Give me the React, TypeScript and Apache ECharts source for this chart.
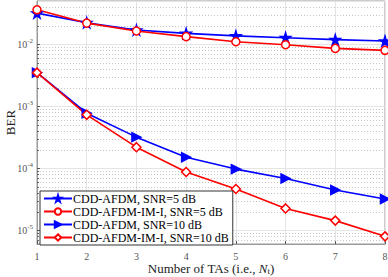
import React, { useEffect, useRef } from "react";
import * as echarts from "echarts";

const xValues = [1, 2, 3, 4, 5, 6, 7, 8];
const afdm5 = [0.0319, 0.0223, 0.017, 0.015, 0.0137, 0.0128, 0.0119, 0.0113];
const imi5 = [0.0361, 0.022, 0.0164, 0.0133, 0.011, 0.00985, 0.0086, 0.008];
const afdm10 = [3.49e-3, 7.74e-4, 3.18e-4, 1.51e-4, 9.7e-5, 6.86e-5, 4.46e-5, 3.19e-5];
const imi10 = [3.49e-3, 7.28e-4, 2.19e-4, 8.69e-5, 4.62e-5, 2.25e-5, 1.43e-5, 7.97e-6];
const seriesNames = [
  "CDD-AFDM, SNR=5 dB",
  "CDD-AFDM-IM-I, SNR=5 dB",
  "CDD-AFDM, SNR=10 dB",
  "CDD-AFDM-IM-I, SNR=10 dB",
];
const minorGridValues = [
  7e-6, 8e-6, 9e-6,
  2e-5, 3e-5, 4e-5, 5e-5, 6e-5, 7e-5, 8e-5, 9e-5,
  2e-4, 3e-4, 4e-4, 5e-4, 6e-4, 7e-4, 8e-4, 9e-4,
  2e-3, 3e-3, 4e-3, 5e-3, 6e-3, 7e-3, 8e-3, 9e-3,
  2e-2, 3e-2, 4e-2,
];

const STAR = "path://M50,0 L61,35 L98,35 L68,57 L79,91 L50,70 L21,91 L32,57 L2,35 L39,35 Z";
const SERIF = "'Liberation Serif', 'DejaVu Serif', serif";

export default function App() {
  const ref = useRef<HTMLDivElement>(null);
  useEffect(() => {
    if (!ref.current) return;
    const chart = echarts.init(ref.current, undefined, { renderer: "svg" });
    const pair = (arr: number[]) => xValues.map((x, i) => [x, arr[i]]);
    const mk = (
      name: string,
      data: number[],
      color: string,
      symbol: string,
      size: number,
      filled: boolean,
      rotate = 0
    ) => ({
      name,
      type: "line",
      data: pair(data),
      symbol,
      symbolSize: size,
      symbolRotate: rotate,
      showAllSymbol: true,
      lineStyle: { color, width: 1.6 },
      itemStyle: { color: filled ? color : "#ffffff", borderColor: color, borderWidth: 1.5 },
      color,
      z: 3,
    });
    chart.setOption({
      animation: false,
      grid: {
        left: 37,
        right: 3,
        top: 1,
        bottom: 33,
        containLabel: false,
        outerBoundsMode: "none",
        show: true,
        borderColor: "#9a9a9a",
        borderWidth: 1,
        backgroundColor: "#ffffff",
      },
      legend: {
        data: seriesNames,
        orient: "vertical",
        left: 40,
        top: 191,
        itemWidth: 28,
        itemHeight: 8,
        itemGap: 0,
        padding: [1, 4, 1, 3],
        backgroundColor: "#ffffff",
        borderColor: "#333333",
        borderWidth: 1,
        borderRadius: 0,
        textStyle: {
          fontFamily: SERIF,
          fontSize: 12,
          lineHeight: 13,
          color: "#000000",
          padding: [0, 0, 0, -4],
        },
      },
      xAxis: {
        type: "value",
        min: 1,
        max: 8,
        interval: 1,
        name: "{r|Number of TAs (i.e., }{i|N}{sub|t}{r|)}",
        nameLocation: "middle",
        nameGap: 17,
        nameMoveOverlap: false,
        nameTextStyle: {
          fontFamily: SERIF,
          fontSize: 13,
          color: "#222",
          rich: {
            r: { fontFamily: SERIF, fontSize: 13, color: "#222" },
            i: { fontFamily: SERIF, fontSize: 13, fontStyle: "italic", color: "#222" },
            sub: { fontFamily: SERIF, fontSize: 9, color: "#222", padding: [5, 0, 0, 0] },
          },
        },
        axisLine: { show: true, lineStyle: { color: "#9a9a9a" } },
        axisTick: { show: true, inside: true, length: 3, lineStyle: { color: "#555" } },
        axisLabel: { fontFamily: SERIF, fontSize: 10, color: "#555", margin: 7 },
        splitLine: { show: true, lineStyle: { color: "#e4e4e4", width: 1 } },
      },
      yAxis: {
        type: "log",
        logBase: 10,
        min: 6e-6,
        max: 0.05,
        name: "BER",
        nameLocation: "middle",
        nameGap: 20,
        nameMoveOverlap: false,
        nameTextStyle: { fontFamily: SERIF, fontSize: 13, color: "#222" },
        axisLine: { show: true, lineStyle: { color: "#9a9a9a" } },
        axisTick: { show: true, inside: true, length: 3, lineStyle: { color: "#555" } },
        axisLabel: {
          showMinLabel: false,
          showMaxLabel: false,
          margin: 4,
          fontFamily: SERIF,
          formatter: (v: number) => {
            const e = Math.round(Math.log10(v));
            return "{b|10}{s|" + e + "}";
          },
          rich: {
            b: { fontFamily: SERIF, fontSize: 10, color: "#555" },
            s: { fontFamily: SERIF, fontSize: 7, color: "#555", padding: [0, 0, 7, 0] },
          },
        },
        splitLine: { show: true, lineStyle: { color: "#e4e4e4", width: 1 } },
      },
      series: [
        {
          name: "minorGrid",
          type: "custom",
          silent: true,
          z: 1,
          data: minorGridValues.map((v) => [1, v]),
          renderItem: (params: any, api: any) => {
            const cs = params.coordSys;
            const y = Math.round(api.coord([1, api.value(1)])[1]) + 0.5;
            return {
              type: "group",
              children: [
                {
                  type: "line",
                  shape: { x1: cs.x, y1: y, x2: cs.x + cs.width, y2: y },
                  style: { stroke: "#c4c4c4", lineWidth: 1, lineDash: [1, 2] },
                },
                {
                  type: "line",
                  shape: { x1: cs.x, y1: y, x2: cs.x + 2, y2: y },
                  style: { stroke: "#666", lineWidth: 1 },
                },
              ],
            };
          },
        },
        mk(seriesNames[0], afdm5, "#0000ff", STAR, 10, true),
        mk(seriesNames[1], imi5, "#ff0000", "circle", 8, false),
        mk(seriesNames[2], afdm10, "#0000ff", "triangle", 9, true, -90),
        mk(seriesNames[3], imi10, "#ff0000", "diamond", 9, false),
      ],
    });
    return () => chart.dispose();
  }, []);
  return (
    <div
      ref={ref}
      style={{ position: "fixed", left: 0, top: 0, width: 388, height: 277, background: "#fff" }}
    />
  );
}
